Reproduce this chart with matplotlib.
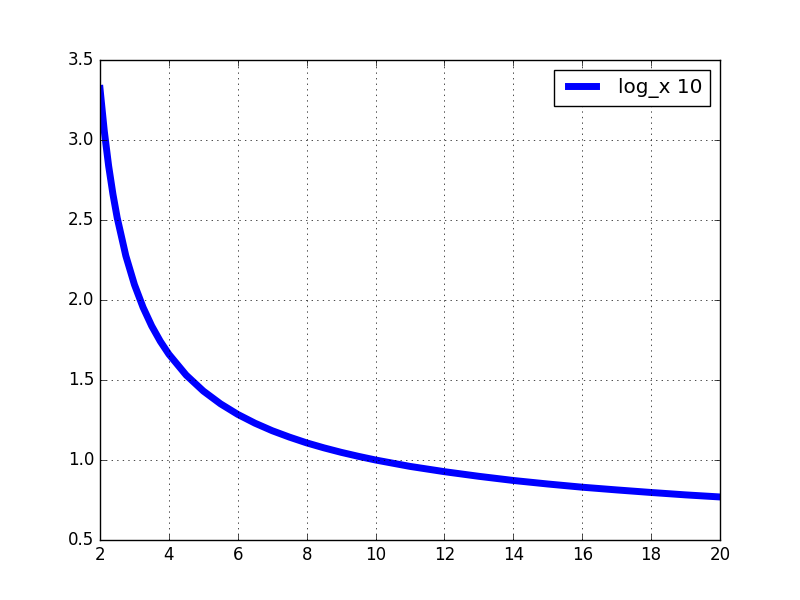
import matplotlib
matplotlib.use("Agg")
import matplotlib.pyplot as plt

# values (log base x of 10)
x_vals = [2.0, 2.125, 2.25, 2.375, 2.5, 2.75, 3.0, 3.25, 3.5, 3.75, 4.0, 4.5, 5.0,
          5.5, 6.0, 6.5, 7.0, 7.5, 8.0, 8.5, 9.0, 9.5, 10.0, 11.0, 12.0, 13.0,
          14.0, 15.0, 16.0, 17.0, 18.0, 19.0, 20.0]
y_vals = [3.322, 3.055, 2.839, 2.662, 2.513, 2.276, 2.096, 1.954, 1.838, 1.742, 1.661,
          1.531, 1.431, 1.351, 1.285, 1.230, 1.183, 1.143, 1.107, 1.076, 1.048, 1.023,
          1.000, 0.960, 0.927, 0.898, 0.872, 0.850, 0.830, 0.813, 0.797, 0.782, 0.769]
series_label = "log_x 10"

plt.style.use("classic")

fig, ax = plt.subplots(figsize=(8, 6), dpi=100)
fig.patch.set_facecolor("white")
ax.plot(x_vals, y_vals, color="blue", linewidth=5, label=series_label,
        solid_joinstyle="round")
ax.set_xlim(2, 20)
ax.set_ylim(0.5, 3.5)
ax.grid(True)
ax.legend(loc="upper right")

fig.savefig("out.png", dpi=100, facecolor="white")
